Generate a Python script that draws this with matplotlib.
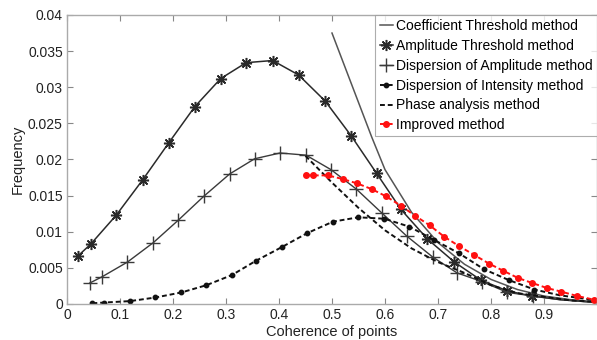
import matplotlib
matplotlib.use("Agg")
import matplotlib.pyplot as plt

plt.rcParams['font.family'] = ['Liberation Sans', 'DejaVu Sans']

coef_x = [0.5, 0.525, 0.55, 0.575, 0.6, 0.65, 0.7, 0.75, 0.8, 0.85, 0.9, 0.95, 1.0]
coef_y = [0.0375, 0.0327, 0.0279, 0.0231, 0.0186, 0.0127, 0.0085, 0.0055, 0.0034, 0.0020, 0.0011, 0.0006, 0.0003]

amp_x = [0.02, 0.045, 0.093, 0.143, 0.192, 0.241, 0.29, 0.338, 0.388, 0.437, 0.487,
         0.536, 0.584, 0.630, 0.680, 0.731, 0.781, 0.831, 0.878, 0.93, 1.0]
amp_y = [0.0066, 0.0083, 0.0123, 0.0172, 0.0223, 0.0273, 0.0312, 0.0334, 0.0337, 0.0317, 0.0281,
         0.0233, 0.0181, 0.0131, 0.0090, 0.0058, 0.0033, 0.0018, 0.0011, 0.0006, 0.0002]

disp_amp_x = [0.043, 0.067, 0.114, 0.163, 0.210, 0.258, 0.307, 0.354, 0.402, 0.451, 0.498,
              0.546, 0.594, 0.641, 0.690, 0.736, 0.783, 0.831, 0.88, 0.93, 1.0]
disp_amp_y = [0.0029, 0.0038, 0.0058, 0.0085, 0.0116, 0.0149, 0.0180, 0.0201, 0.0209, 0.0206, 0.0186,
              0.0159, 0.0126, 0.0094, 0.0065, 0.0043, 0.0031, 0.0016, 0.0011, 0.0006, 0.0002]

disp_int_x = [0.048, 0.070, 0.119, 0.167, 0.216, 0.263, 0.311, 0.357, 0.406, 0.453, 0.502,
              0.550, 0.599, 0.646, 0.692, 0.740, 0.787, 0.834, 0.882, 0.93, 1.0]
disp_int_y = [0.0001, 0.0002, 0.0004, 0.0009, 0.0016, 0.0026, 0.0040, 0.0060, 0.0079, 0.0098, 0.0114,
              0.0120, 0.0118, 0.0107, 0.0089, 0.0070, 0.0048, 0.0033, 0.0020, 0.0012, 0.0005]

phase_x = [0.45, 0.5, 0.55, 0.6, 0.65, 0.7, 0.75, 0.8, 0.85, 0.9, 0.95, 1.0]
phase_y = [0.0205, 0.0168, 0.0133, 0.0102, 0.0077, 0.0058, 0.0043, 0.0026, 0.0015, 0.0010, 0.0005, 0.0003]

imp_x = [0.451, 0.464, 0.492, 0.520, 0.547, 0.575, 0.602, 0.630, 0.657, 0.684, 0.712,
         0.740, 0.768, 0.796, 0.823, 0.851, 0.878, 0.906, 0.933, 0.963, 0.994]
imp_y = [0.0178, 0.0178, 0.0178, 0.0173, 0.0167, 0.0159, 0.0149, 0.0136, 0.0122, 0.0109, 0.0093,
         0.0080, 0.0068, 0.0056, 0.0046, 0.0036, 0.0029, 0.0022, 0.0017, 0.0011, 0.0006]

labels = ["Coefficient Threshold method", "Amplitude Threshold method",
          "Dispersion of Amplitude method", "Dispersion of Intensity method",
          "Phase analysis method", "Improved method"]

xticks = [0, 0.1, 0.2, 0.3, 0.4, 0.5, 0.6, 0.7, 0.8, 0.9]
xticklabels = ["0", "0.1", "0.2", "0.3", "0.4", "0.5", "0.6", "0.7", "0.8", "0.9"]
yticks = [0, 0.005, 0.01, 0.015, 0.02, 0.025, 0.03, 0.035, 0.04]
yticklabels = ["0", "0.005", "0.01", "0.015", "0.02", "0.025", "0.03", "0.035", "0.04"]

fig = plt.figure(figsize=(5.97, 3.40), dpi=100)
ax = fig.add_axes([0.1122, 0.1059, 0.8878, 0.85])

ax.plot(coef_x, coef_y, '-', color='#555555', lw=1.1, label=labels[0])
ax.plot(amp_x, amp_y, '-', color='#2a2a2a', lw=1.1, marker=(8, 2, 0), ms=8, mew=1.1,
        markevery=slice(0, -2), label=labels[1])
ax.plot(disp_amp_x, disp_amp_y, '-', color='#3a3a3a', lw=1.0, marker='+', ms=10, mew=1.0,
        markevery=slice(0, -2), label=labels[2])
ax.plot(disp_int_x, disp_int_y, '--', color='#111111', lw=1.4, marker='o', ms=3.2,
        markevery=slice(0, -2), dashes=(2.5, 1.5), label=labels[3])
ax.plot(phase_x, phase_y, '--', color='#111111', lw=1.4, dashes=(2.5, 1.5), label=labels[4])
ax.plot(imp_x, imp_y, '--', color='#ff1010', lw=1.4, marker='o', ms=4, dashes=(2.5, 1.5),
        label=labels[5])

ax.set_xlim(0, 1)
ax.set_ylim(0, 0.04)
ax.set_xticks(xticks)
ax.set_xticklabels(xticklabels)
ax.set_yticks(yticks)
ax.set_yticklabels(yticklabels)
ax.tick_params(direction='in', top=True, right=True, length=4, width=0.8,
               color='#888888', labelsize=10, labelcolor='#222222', pad=3)
for s in ax.spines.values():
    s.set_color('#aaaaaa')
    s.set_linewidth(1.0)

ax.set_xlabel("Coherence of points", fontsize=10.5, color='#222222', labelpad=2)
ax.set_ylabel("Frequency", fontsize=10.5, color='#222222', labelpad=2)

leg = ax.legend(loc='upper right', borderaxespad=0, fontsize=10, frameon=True, fancybox=False,
                handlelength=1.0, handletextpad=0.2, borderpad=0.3, labelspacing=0.42,
                edgecolor='#999999')
leg.get_frame().set_linewidth(0.8)

fig.savefig("out.png", dpi=100)
